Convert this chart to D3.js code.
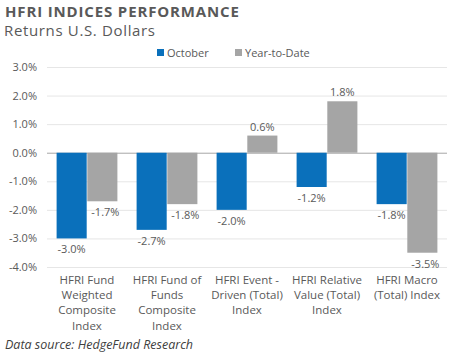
<!DOCTYPE html>
<html><head><meta charset="utf-8">
<script src="https://cdn.jsdelivr.net/npm/d3@7"></script>
<style>body{margin:0;background:#fff}svg{display:block;font-family:"Open Sans",sans-serif}</style>
</head><body><svg id="c" width="450" height="356"></svg>
<script>
const categories = [
  ["HFRI Fund","Weighted","Composite","Index"],
  ["HFRI Fund of","Funds","Composite","Index"],
  ["HFRI Event -","Driven (Total)","Index"],
  ["HFRI Relative","Value (Total)","Index"],
  ["HFRI Macro","(Total) Index"]
];
const seriesNames = ["October","Year-to-Date"];
const october = [-3.0,-2.7,-2.0,-1.2,-1.8];
const ytd = [-1.7,-1.8,0.6,1.8,-3.5];
const yTicks = [3,2,1,0,-1,-2,-3,-4];
const colors = ["#0a70bb","#a5a5a5"];

(function(){
const svg = d3.select("#c");
const txt = "#595959";
const fmt = d => (d<0?"-":"") + Math.abs(d).toFixed(1) + "%";
const pL = 47, pR = 447, pT = 67, pB = 267;
const x0 = d3.scaleBand().domain(d3.range(categories.length)).range([pL,pR]).paddingInner(0.24).paddingOuter(0.12);
const x1 = d3.scaleBand().domain([0,1]).range([0,x0.bandwidth()]).paddingInner(0.02);
const y = d3.scaleLinear().domain([-4,3]).range([pB,pT]);

svg.append("text").attr("x",5).attr("y",17).attr("fill",txt).attr("font-size",15).attr("font-weight","bold").attr("letter-spacing",0.85).text("HFRI INDICES PERFORMANCE");
svg.append("text").attr("x",4).attr("y",36).attr("fill",txt).attr("font-size",15).attr("letter-spacing",0.65).text("Returns U.S. Dollars");

const lg = [157,235];
seriesNames.forEach((n,i)=>{
  svg.append("rect").attr("x",lg[i]).attr("y",49).attr("width",7).attr("height",7).attr("fill",colors[i]);
  svg.append("text").attr("x",lg[i]+10).attr("y",57).attr("fill",txt).attr("font-size",11).text(n);
});

const ax = svg.append("g").attr("transform",`translate(${pL},0)`)
  .call(d3.axisLeft(y).tickValues(yTicks).tickSize(-(pR-pL)).tickFormat(fmt));
ax.select(".domain").remove();
ax.selectAll(".tick line").attr("stroke",d=>d===0?"#a6a6a6":"#e6e6e6").attr("stroke-width",1);
ax.selectAll(".tick text").attr("fill",txt).attr("font-size",11).attr("x",-10).attr("font-family","Open Sans");

const data = [october, ytd];
const g = svg.append("g");
categories.forEach((c,ci)=>{
  data.forEach((s,si)=>{
    const v = s[ci];
    const bx = x0(ci)+x1(si);
    g.append("rect").attr("x",bx).attr("width",x1.bandwidth())
      .attr("y",y(Math.max(0,v))).attr("height",Math.abs(y(v)-y(0))).attr("fill",colors[si]);
    g.append("text").attr("x",bx+x1.bandwidth()/2+(v<0&&si===1?3:0)).attr("y",v<0?y(v)+15:y(v)-5)
      .attr("text-anchor","middle").attr("fill",txt).attr("font-size",11).text(fmt(v));
  });
  const t = g.append("text").attr("text-anchor","middle").attr("fill",txt).attr("font-size",11.5);
  c.forEach((line,li)=>{
    t.append("tspan").attr("x",x0(ci)+x0.bandwidth()/2).attr("y",284+li*15.2).text(line);
  });
});

svg.append("text").attr("x",5).attr("y",349).attr("fill","#404040").attr("font-size",12.5).attr("font-style","italic").text("Data source: HedgeFund Research");
})();
</script></body></html>
